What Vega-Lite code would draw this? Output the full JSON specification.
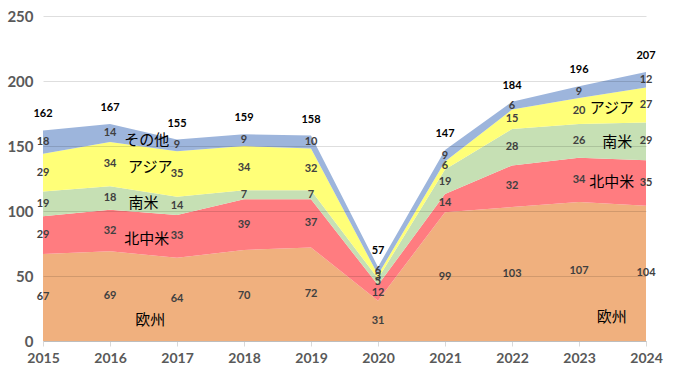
{
  "$schema": "https://vega.github.io/schema/vega-lite/v6.json",
  "autosize": "none",
  "width": 603,
  "height": 325,
  "padding": {"left": 43, "top": 16, "right": 29, "bottom": 35},
  "background": "white",
  "config": {"view": {"stroke": null}, "font": "Lato"},
  "datasets": {
    "main": [
      {"year": 2015, "region": "欧州", "ord": 1, "value": 67},
      {"year": 2015, "region": "北中米", "ord": 2, "value": 29},
      {"year": 2015, "region": "南米", "ord": 3, "value": 19},
      {"year": 2015, "region": "アジア", "ord": 4, "value": 29},
      {"year": 2015, "region": "その他", "ord": 5, "value": 18},
      {"year": 2016, "region": "欧州", "ord": 1, "value": 69},
      {"year": 2016, "region": "北中米", "ord": 2, "value": 32},
      {"year": 2016, "region": "南米", "ord": 3, "value": 18},
      {"year": 2016, "region": "アジア", "ord": 4, "value": 34},
      {"year": 2016, "region": "その他", "ord": 5, "value": 14},
      {"year": 2017, "region": "欧州", "ord": 1, "value": 64},
      {"year": 2017, "region": "北中米", "ord": 2, "value": 33},
      {"year": 2017, "region": "南米", "ord": 3, "value": 14},
      {"year": 2017, "region": "アジア", "ord": 4, "value": 35},
      {"year": 2017, "region": "その他", "ord": 5, "value": 9},
      {"year": 2018, "region": "欧州", "ord": 1, "value": 70},
      {"year": 2018, "region": "北中米", "ord": 2, "value": 39},
      {"year": 2018, "region": "南米", "ord": 3, "value": 7},
      {"year": 2018, "region": "アジア", "ord": 4, "value": 34},
      {"year": 2018, "region": "その他", "ord": 5, "value": 9},
      {"year": 2019, "region": "欧州", "ord": 1, "value": 72},
      {"year": 2019, "region": "北中米", "ord": 2, "value": 37},
      {"year": 2019, "region": "南米", "ord": 3, "value": 7},
      {"year": 2019, "region": "アジア", "ord": 4, "value": 32},
      {"year": 2019, "region": "その他", "ord": 5, "value": 10},
      {"year": 2020, "region": "欧州", "ord": 1, "value": 31},
      {"year": 2020, "region": "北中米", "ord": 2, "value": 12},
      {"year": 2020, "region": "南米", "ord": 3, "value": 5},
      {"year": 2020, "region": "アジア", "ord": 4, "value": 3},
      {"year": 2020, "region": "その他", "ord": 5, "value": 6},
      {"year": 2021, "region": "欧州", "ord": 1, "value": 99},
      {"year": 2021, "region": "北中米", "ord": 2, "value": 14},
      {"year": 2021, "region": "南米", "ord": 3, "value": 19},
      {"year": 2021, "region": "アジア", "ord": 4, "value": 6},
      {"year": 2021, "region": "その他", "ord": 5, "value": 9},
      {"year": 2022, "region": "欧州", "ord": 1, "value": 103},
      {"year": 2022, "region": "北中米", "ord": 2, "value": 32},
      {"year": 2022, "region": "南米", "ord": 3, "value": 28},
      {"year": 2022, "region": "アジア", "ord": 4, "value": 15},
      {"year": 2022, "region": "その他", "ord": 5, "value": 6},
      {"year": 2023, "region": "欧州", "ord": 1, "value": 107},
      {"year": 2023, "region": "北中米", "ord": 2, "value": 34},
      {"year": 2023, "region": "南米", "ord": 3, "value": 26},
      {"year": 2023, "region": "アジア", "ord": 4, "value": 20},
      {"year": 2023, "region": "その他", "ord": 5, "value": 9},
      {"year": 2024, "region": "欧州", "ord": 1, "value": 104},
      {"year": 2024, "region": "北中米", "ord": 2, "value": 35},
      {"year": 2024, "region": "南米", "ord": 3, "value": 29},
      {"year": 2024, "region": "アジア", "ord": 4, "value": 27},
      {"year": 2024, "region": "その他", "ord": 5, "value": 12}
    ],
    "totals": [
      {"year": 2015, "total": 162},
      {"year": 2016, "total": 167},
      {"year": 2017, "total": 155},
      {"year": 2018, "total": 159},
      {"year": 2019, "total": 158},
      {"year": 2020, "total": 57},
      {"year": 2021, "total": 147},
      {"year": 2022, "total": 184},
      {"year": 2023, "total": 196},
      {"year": 2024, "total": 207}
    ],
    "names": [
      {"name": "その他", "x": 2016.55, "y": 154.5},
      {"name": "アジア", "x": 2016.6, "y": 134},
      {"name": "南米", "x": 2016.5, "y": 106},
      {"name": "北中米", "x": 2016.55, "y": 78.5},
      {"name": "欧州", "x": 2016.6, "y": 16},
      {"name": "アジア", "x": 2023.49, "y": 179},
      {"name": "南米", "x": 2023.57, "y": 153},
      {"name": "北中米", "x": 2023.49, "y": 122},
      {"name": "欧州", "x": 2023.49, "y": 18.5}
    ]
  },
  "layer": [
    {
      "data": {"name": "main"},
      "mark": {"type": "area", "opacity": 1},
      "encoding": {
        "x": {
          "field": "year", "type": "quantitative",
          "scale": {"domain": [2015, 2024], "nice": false, "zero": false},
          "axis": {
            "title": null, "values": [2015, 2016, 2017, 2018, 2019, 2020, 2021, 2022, 2023, 2024],
            "format": "d", "grid": false, "domainColor": "#d9d9d9", "tickColor": "#d9d9d9",
            "tickSize": 5, "labelFontSize": 14, "labelFontWeight": "bold", "labelColor": "#595959",
            "labelPadding": 5, "labelFlush": false
          }
        },
        "y": {
          "field": "value", "type": "quantitative", "stack": "zero",
          "scale": {"domain": [0, 250], "nice": false},
          "axis": {
            "title": null, "values": [0, 50, 100, 150, 200, 250], "domain": false, "ticks": false,
            "gridColor": "#000000", "gridOpacity": 0.13, "zindex": 1,
            "labelFontSize": 15, "labelFontWeight": "bold", "labelColor": "#595959", "labelPadding": 10
          }
        },
        "color": {
          "field": "region", "type": "nominal", "legend": null,
          "scale": {
            "domain": ["欧州", "北中米", "南米", "アジア", "その他"],
            "range": ["#F0B07E", "#FF7C80", "#C6E0B4", "#FFFF78", "#9DB5DC"]
          }
        },
        "order": {"field": "ord", "type": "quantitative"}
      }
    },
    {
      "data": {"name": "main"},
      "transform": [
        {"stack": "value", "groupby": ["year"], "sort": [{"field": "ord", "order": "ascending"}], "as": ["y0", "y1"]},
        {"calculate": "(datum.y0 + datum.y1) / 2", "as": "mid"}
      ],
      "mark": {"type": "text", "fontSize": 11, "fontWeight": "bold", "color": "#404040", "baseline": "middle"},
      "encoding": {
        "x": {"field": "year", "type": "quantitative"},
        "y": {"field": "mid", "type": "quantitative"},
        "text": {"field": "value", "type": "quantitative"}
      }
    },
    {
      "data": {"name": "totals"},
      "mark": {"type": "text", "fontSize": 11, "fontWeight": "bold", "color": "#000000", "baseline": "middle", "dy": -16},
      "encoding": {
        "x": {"field": "year", "type": "quantitative"},
        "y": {"field": "total", "type": "quantitative"},
        "text": {"field": "total", "type": "quantitative"}
      }
    },
    {
      "data": {"name": "names"},
      "mark": {"type": "text", "fontSize": 15, "color": "#000000", "baseline": "middle", "font": "Noto Sans CJK JP"},
      "encoding": {
        "x": {"field": "x", "type": "quantitative"},
        "y": {"field": "y", "type": "quantitative"},
        "text": {"field": "name", "type": "nominal"}
      }
    }
  ]
}
